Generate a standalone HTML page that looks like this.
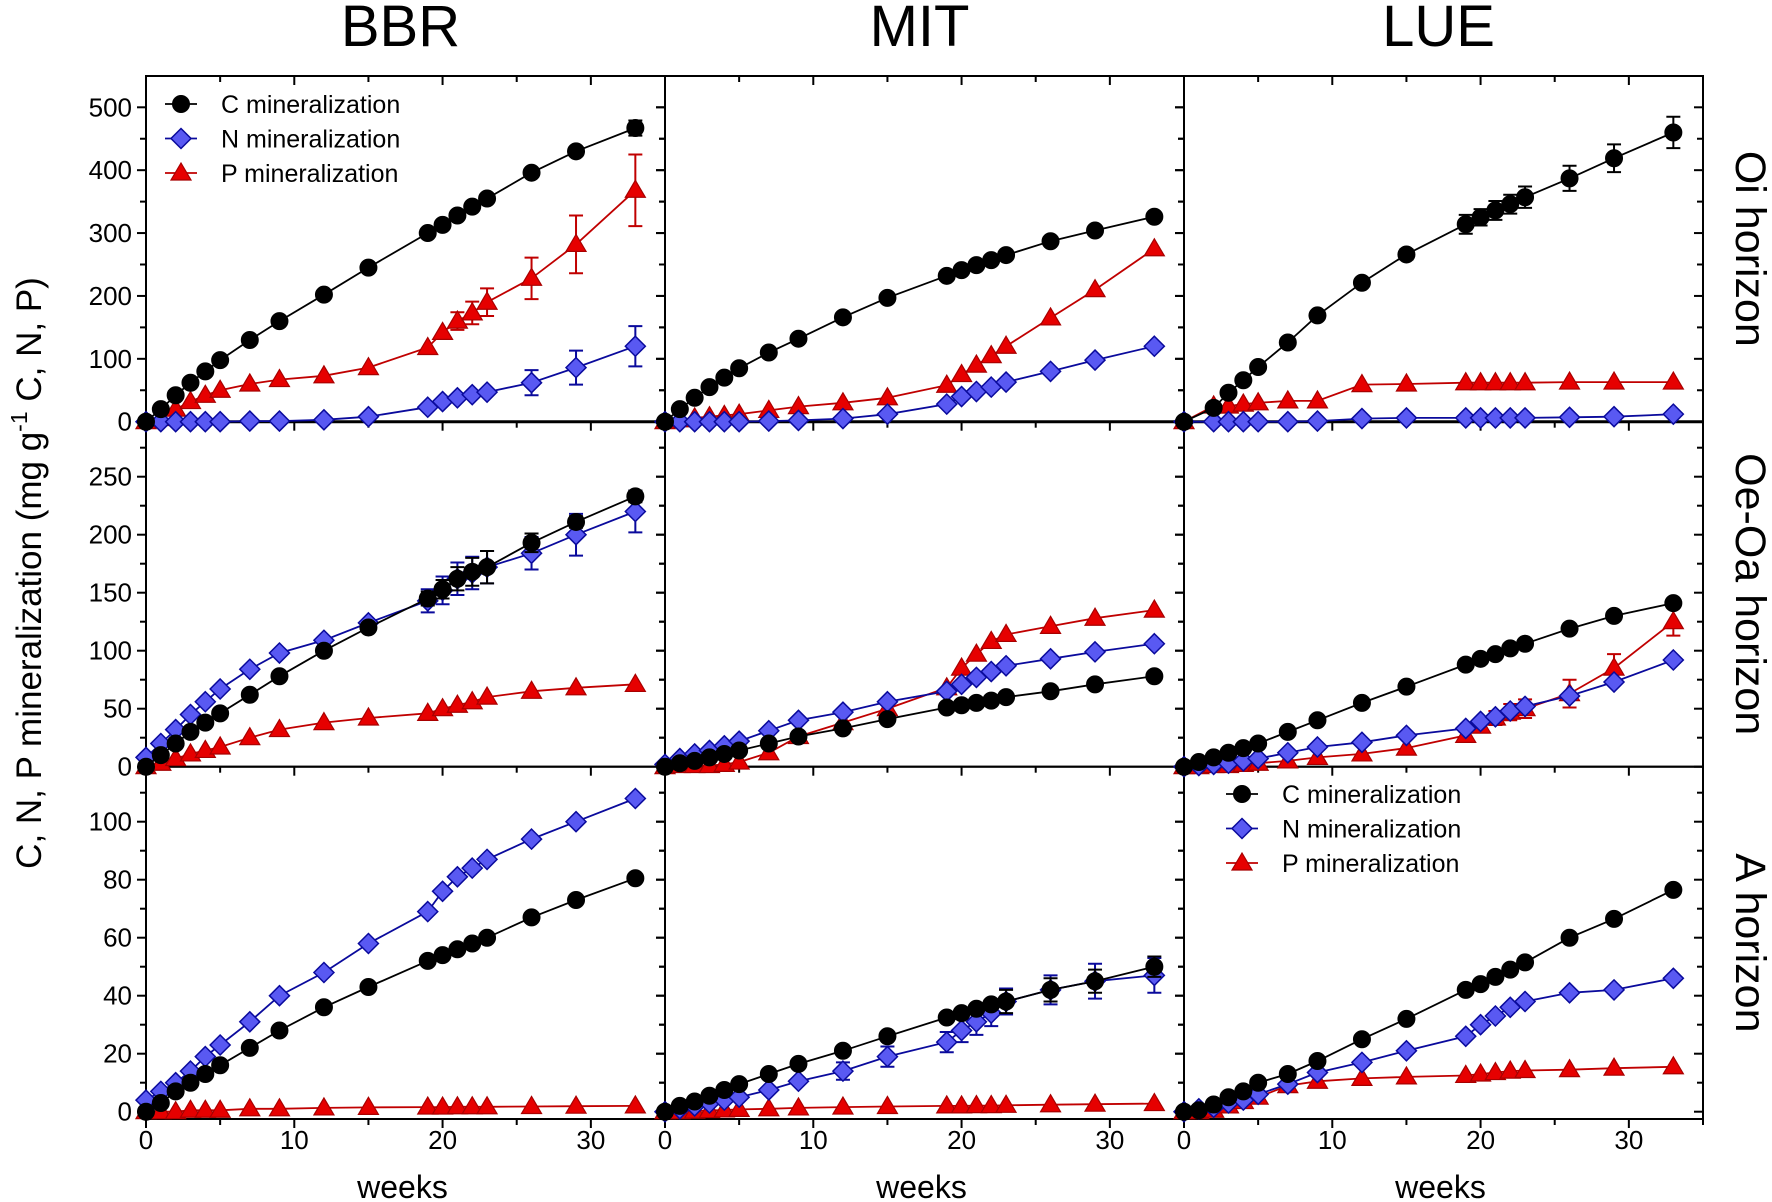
<!DOCTYPE html>
<html><head><meta charset="utf-8">
<style>
html,body{margin:0;padding:0;background:#fff;}
svg{display:block;font-family:"Liberation Sans",Arial,sans-serif;}
</style></head>
<body>
<svg id="chart" width="1772" height="1202" viewBox="0 0 1772 1202" xmlns="http://www.w3.org/2000/svg"></svg>
<script>
// ---- data ----
const weeks = [0,1,2,3,4,5,7,9,12,15,19,20,21,22,23,26,29,33];
const weeksLueOi = [0,2,3,4,5,7,9,12,15,19,20,21,22,23,26,29,33];

const bbrOiC = [0,20,42,62,80,98,130,160,202,245,300,313,328,342,355,396,430,467];
const bbrOiN = [0,0,0,0,0,0,1,1,3,8,23,32,38,43,47,62,86,120];
const bbrOiP = [0,5,20,32,42,50,60,67,73,86,118,142,160,173,190,228,282,368];
const bbrOiCErr = [0,0,0,0,0,0,0,0,0,0,0,0,0,0,0,0,0,12];
const bbrOiNErr = [0,0,0,0,0,0,0,0,0,0,0,0,0,0,0,20,27,32];
const bbrOiPErr = [0,0,0,0,0,0,0,0,0,0,0,0,14,18,22,33,46,57];

const mitOiC = [0,20,38,55,70,85,110,132,166,197,232,241,249,257,265,287,304,326];
const mitOiN = [0,0,0,0,0,0,1,2,5,12,28,40,48,55,63,80,98,120];
const mitOiP = [0,3,6,8,10,12,18,24,30,38,58,75,90,105,120,165,210,275];

const lueOiC = [0,22,46,66,87,126,169,221,266,314,325,336,346,357,387,419,460];
const lueOiN = [0,0,0,0,0,0,1,5,6,6,6,6,6,6,7,8,12];
const lueOiP = [0,25,25,28,30,33,33,59,60,62,62,62,62,62,63,63,63];
const lueOiCErr = [0,0,0,0,0,0,0,0,8,15,13,15,15,17,20,22,25];

const bbrOeC = [0,10,20,30,38,46,62,78,100,120,145,153,162,168,172,193,211,233];
const bbrOeN = [8,20,32,45,56,67,84,98,109,124,143,152,162,167,172,184,200,220];
const bbrOeP = [0,3,7,11,14,17,25,32,38,42,46,50,53,56,60,65,68,71];
const bbrOeCErr = [0,0,0,0,0,0,0,0,0,0,6,8,10,12,14,8,5,5];
const bbrOeNErr = [0,0,0,0,0,0,0,0,0,0,10,12,14,14,14,14,18,18];

const mitOeC = [0,3,5,8,11,14,20,26,33,41,51,53,55,57,60,65,71,78];
const mitOeN = [2,7,11,14,18,22,31,40,47,56,65,71,77,82,87,93,99,106];
const mitOeP = [0,1,1,1,2,4,12,26,38,50,68,85,97,108,114,121,128,135];

const lueOeC = [0,4,8,12,16,20,30,40,55,69,88,93,97,102,106,119,130,141];
const lueOeN = [0,1,2,3,5,7,12,17,21,27,33,39,43,48,52,61,73,92];
const lueOeP = [0,0,1,1,2,3,5,8,11,16,27,35,42,47,50,63,85,125];
const lueOePErr = [0,0,0,0,0,0,0,0,0,0,3,5,6,7,8,12,12,12];

const bbrAC = [0,3,7,10,13,16,22,28,36,43,52,54,56,58,60,67,73,80.5];
const bbrAN = [4,7,10,14,19,23,31,40,48,58,69,76,81,84,87,94,100,108];
const bbrAP = [0,0,0,0.5,0.5,0.5,1,1,1.3,1.5,1.6,1.6,1.7,1.7,1.7,1.8,1.9,2];

const mitAC = [0,2,3.5,5.5,7.5,9.5,13,16.5,21,26,32.5,34,35.5,37,38,42,45,50];
const mitAN = [0,1,2,3,4,5,7.5,10.5,14,19,24,28,31,34,38,42,45,47];
const mitAP = [0,0,0.2,0.4,0.6,0.8,1,1.3,1.6,1.8,2,2,2.1,2.1,2.2,2.4,2.6,2.8];
const mitACErr = [0,0,0,0,0,0,0,0,0,0,0,0,0,0,4,4,4,3.5];
const mitANErr = [0,0,0,0,0,0,0,0,3,3.5,3.5,4,4.5,4.5,4.5,5,6,6];

const lueAC = [0,0.5,2.5,5,7,10,13,17.5,25,32,42,44,46.5,49,51.5,60,66.5,76.5];
const lueAN = [0,1,1.5,3,4,6,9.5,13.5,17,21,26,30,33,36,38,41,42,46];
const lueAP = [0,0,0.5,2,3.5,5,9,10.5,11.5,12,12.5,13,13.5,14,14.2,14.5,15,15.5];

const columnTitles = ["BBR","MIT","LUE"];
const rowTitles = ["Oi horizon","Oe-Oa horizon","A horizon"];
const xTicks = [0,10,20,30];
const xMinorTicks = [5,15,25,35];
const topYTicks = [0,100,200,300,400,500];
const midYTicks = [0,50,100,150,200,250];
const botYTicks = [0,20,40,60,80,100];
const legendLabels = ["C mineralization","N mineralization","P mineralization"];

// ---- layout ----
const NS = "http://www.w3.org/2000/svg";
const svg = document.getElementById('chart');
const colX = [146,665,1184];
const colW = 519;
const xMax = 35;
const rows = [
  {zero:421.7, scale:0.6288, top:76, bottom:421.7, ticks:topYTicks, minor:50},
  {zero:766.7, scale:1.16, top:421.7, bottom:766.7, ticks:midYTicks, minor:25},
  {zero:1111.7, scale:2.9, top:766.7, bottom:1119, ticks:botYTicks, minor:10}
];
function xS(c, w){ return colX[c] + w*colW/xMax; }
function yS(r, v){ return rows[r].zero - v*rows[r].scale; }

function el(tag, attrs, parent){
  const e = document.createElementNS(NS, tag);
  for (const k in attrs) e.setAttribute(k, attrs[k]);
  (parent||svg).appendChild(e);
  return e;
}
const styles = {
  C:{line:"#000", fill:"#000", stroke:"#000", shape:"circle"},
  N:{line:"#0a0a9c", fill:"#5959f2", stroke:"#0a0a9c", shape:"diamond"},
  P:{line:"#c00000", fill:"#e60000", stroke:"#a80000", shape:"triangle"}
};
function marker(g, shape, x, y, st){
  let m;
  if (shape==="circle") m = el('circle',{cx:x,cy:y,r:8.5,fill:st.fill,stroke:st.stroke,'stroke-width':1},g);
  else if (shape==="diamond") m = el('polygon',{points:`${x},${y-10} ${x+10},${y} ${x},${y+10} ${x-10},${y}`,fill:st.fill,stroke:st.stroke,'stroke-width':1.5},g);
  else m = el('polygon',{points:`${x},${y-10} ${x+10},${y+7} ${x-10},${y+7}`,fill:st.fill,stroke:st.stroke,'stroke-width':1.2},g);
  return m;
}
function series(c, r, key, wk, vals, errs){
  const st = styles[key];
  const g = el('g',{});
  
  
  const pts = vals.map((v,i)=>`${xS(c,wk[i]).toFixed(1)},${yS(r,v).toFixed(1)}`).join(' ');
  const pl = el('polyline',{points:pts,fill:'none',stroke:st.line,'stroke-width':1.8},g);
  
  
  if (errs){
    errs.forEach((e,i)=>{
      if (!e) return;
      const x = xS(c,wk[i]), y1 = yS(r,vals[i]+e), y2 = yS(r,vals[i]-e);
      const eb = el('path',{d:`M${x},${y1}V${y2}M${x-7},${y1}H${x+7}M${x-7},${y2}H${x+7}`,stroke:st.line,'stroke-width':2,fill:'none'},g);
      
      
    });
  }
  vals.forEach((v,i)=>{
    const m = marker(g, st.shape, xS(c,wk[i]), yS(r,v), st);
    
    
  });
}

for (let r=0;r<3;r++){
  const R = rows[r];
  for (let c=0;c<3;c++){
    const x0 = colX[c], x1 = colX[c]+colW;
    const g = el('g',{});
    
    
    el('rect',{x:x0,y:R.top,width:colW,height:R.bottom-R.top,fill:'none',stroke:'#000','stroke-width':2},g);
    if (r===0) el('line',{x1:x0,x2:x1,y1:R.zero,y2:R.zero,stroke:'#000','stroke-width':3},g);
    const maxV = (R.zero - R.top)/R.scale;
    for (let v=0; v<=maxV; v+=R.minor){
      const y = yS(r,v);
      if (y < R.top+3) continue;
      const major = R.ticks.includes(v);
      const len = major?9:6;
      el('line',{x1:x0-len,x2:x0,y1:y,y2:y,stroke:'#000','stroke-width':2},g);
      el('line',{x1:x1-len,x2:x1,y1:y,y2:y,stroke:'#000','stroke-width':2},g);
    }
    xTicks.concat(xMinorTicks).forEach(w=>{
      const x = xS(c,w);
      const major = xTicks.includes(w);
      const len = major?9:6;
      if (r===0) el('line',{x1:x,x2:x,y1:R.top,y2:R.top+len,stroke:'#000','stroke-width':2},g);
      el('line',{x1:x,x2:x,y1:R.bottom,y2:R.bottom+len,stroke:'#000','stroke-width':2},g);
    });
  }
  R.ticks.forEach(v=>{
    const t = el('text',{x:132,y:yS(r,v)+9,'text-anchor':'end','font-size':26,fill:'#000'});
    t.textContent = v;
    
    
  });
  const ry = (R.top+R.bottom)/2;
  const rt = el('text',{x:1736,y:ry,'text-anchor':'middle','font-size':43,fill:'#000',transform:`rotate(90 1736 ${ry})`});
  rt.textContent = rowTitles[r];
  
  
}
for (let c=0;c<3;c++){
  const t = el('text',{x:colX[c]+colW/2-5,y:46,'text-anchor':'middle','font-size':58,fill:'#000'});
  t.textContent = columnTitles[c];
  
  
  xTicks.forEach(w=>{
    const l = el('text',{x:xS(c,w),y:1149,'text-anchor':'middle','font-size':26,fill:'#000'});
    l.textContent = w;
    
    
  });
  const wl = el('text',{x:colX[c]+colW/2-3,y:1198,'text-anchor':'middle','font-size':32,fill:'#000'});
  wl.textContent = 'weeks';
  
  
}
const yt = el('text',{x:0,y:0,'text-anchor':'middle','font-size':35,fill:'#000',transform:'translate(41 573) rotate(-90)'});


yt.innerHTML = 'C, N, P mineralization (mg g<tspan dy="-14" font-size="23">-1</tspan><tspan dy="14"> C, N, P)</tspan>';

series(0,0,'P',weeks,bbrOiP,bbrOiPErr); series(0,0,'N',weeks,bbrOiN,bbrOiNErr); series(0,0,'C',weeks,bbrOiC,bbrOiCErr);
series(1,0,'P',weeks,mitOiP); series(1,0,'N',weeks,mitOiN); series(1,0,'C',weeks,mitOiC);
series(2,0,'P',weeksLueOi,lueOiP); series(2,0,'N',weeksLueOi,lueOiN); series(2,0,'C',weeksLueOi,lueOiC,lueOiCErr);
series(0,1,'P',weeks,bbrOeP); series(0,1,'N',weeks,bbrOeN,bbrOeNErr); series(0,1,'C',weeks,bbrOeC,bbrOeCErr);
series(1,1,'P',weeks,mitOeP); series(1,1,'N',weeks,mitOeN); series(1,1,'C',weeks,mitOeC);
series(2,1,'P',weeks,lueOeP,lueOePErr); series(2,1,'N',weeks,lueOeN); series(2,1,'C',weeks,lueOeC);
series(0,2,'P',weeks,bbrAP); series(0,2,'N',weeks,bbrAN); series(0,2,'C',weeks,bbrAC);
series(1,2,'P',weeks,mitAP); series(1,2,'N',weeks,mitAN,mitANErr); series(1,2,'C',weeks,mitAC,mitACErr);
series(2,2,'P',weeks,lueAP); series(2,2,'N',weeks,lueAN); series(2,2,'C',weeks,lueAC);

function legend(x, y0, name){
  const g = el('g',{});
  
  
  ['C','N','P'].forEach((k,i)=>{
    const y = y0 + i*34.5;
    const st = styles[k];
    el('line',{x1:x-16,x2:x+16,y1:y,y2:y,stroke:st.line,'stroke-width':1.8},g);
    marker(g, st.shape, x, y, st);
    const t = el('text',{x:x+40,y:y+9,'font-size':25,fill:'#000'},g);
    t.textContent = legendLabels[i];
    
    
  });
}
legend(181, 104, 'legend-top');
legend(1242, 794, 'legend-bottom');
</script>
</body></html>
